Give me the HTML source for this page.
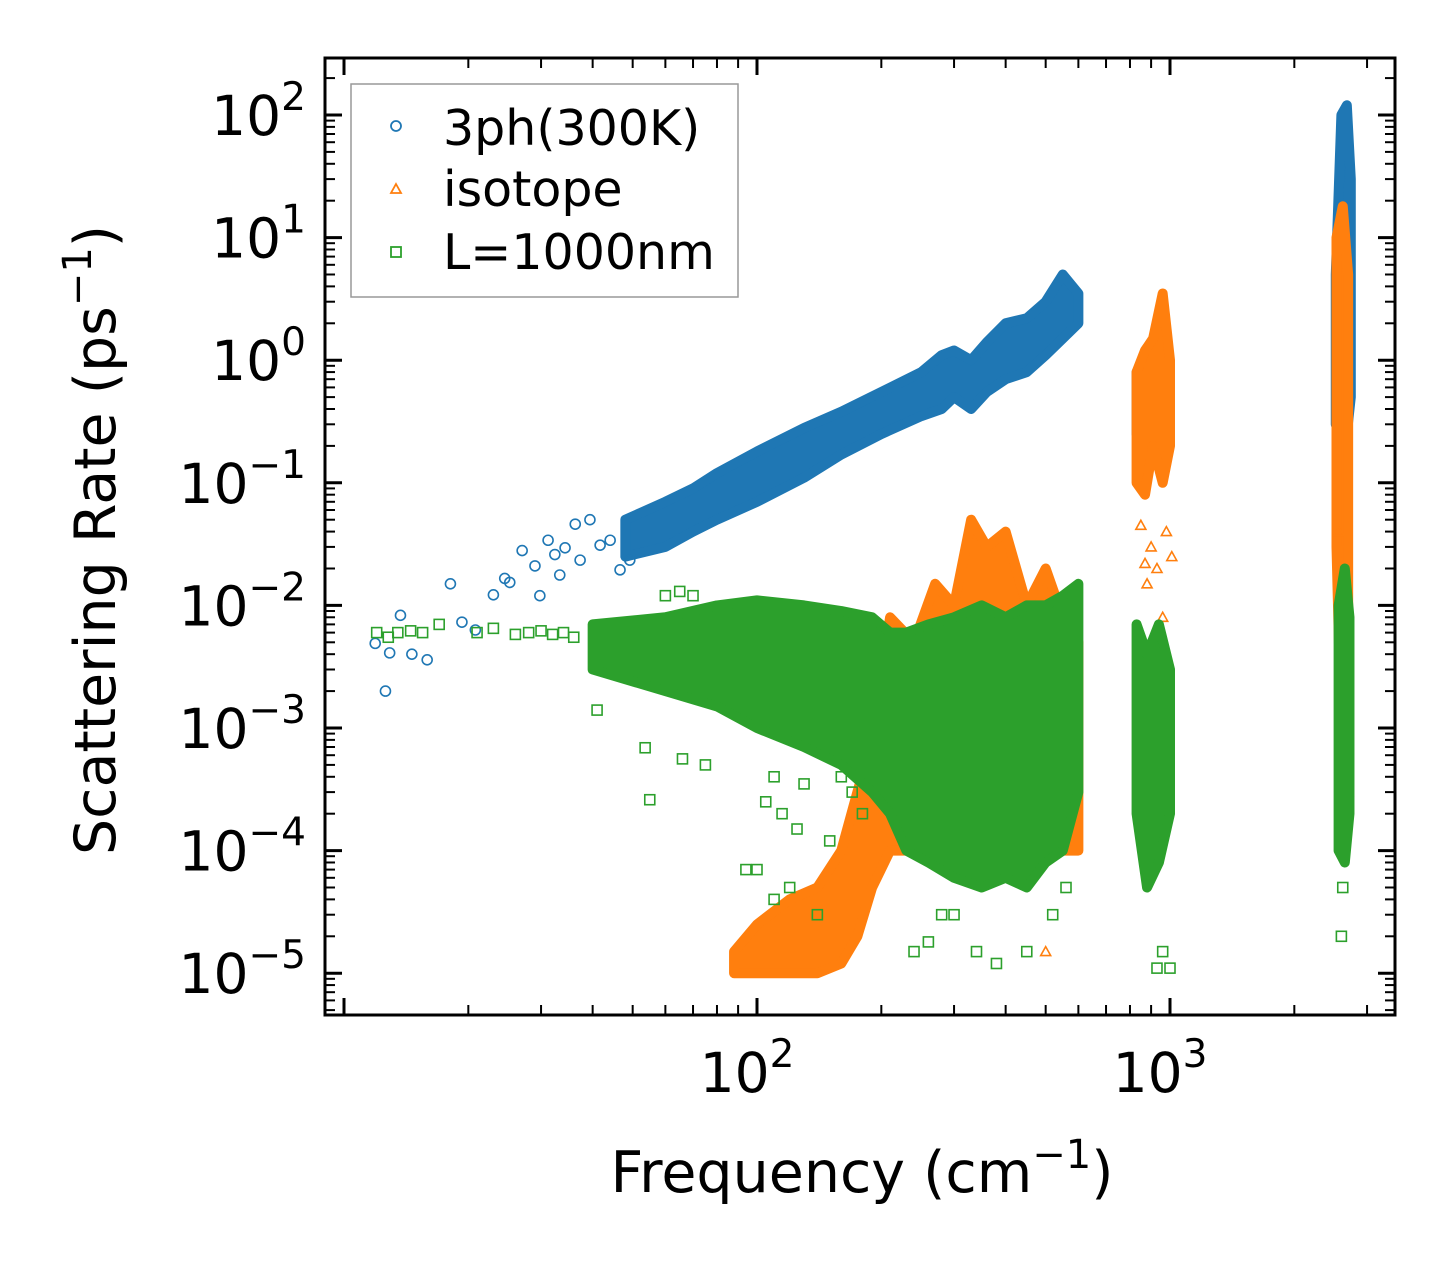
<!DOCTYPE html>
<html><head><meta charset="utf-8">
<style>
html,body{margin:0;padding:0;background:#fff;}
svg{display:block;font-family:"DejaVu Sans","Liberation Sans",sans-serif;}
</style></head>
<body>
<svg id="chart" width="1455" height="1265" viewBox="0 0 1455 1265" xmlns="http://www.w3.org/2000/svg">
<rect x="0" y="0" width="1455" height="1265" fill="#fff"/>
<g id="marks"></g>
<g id="axes"></g>
<text x="862" y="1192" font-size="57" text-anchor="middle">Frequency (cm<tspan font-size="40" dy="-24">−1</tspan><tspan dy="24">)</tspan></text>
<text transform="translate(115,540) rotate(-90)" font-size="57" text-anchor="middle">Scattering Rate (ps<tspan font-size="40" dy="-24">−1</tspan><tspan dy="24">)</tspan></text>
<g>
<rect x="351" y="84" width="387" height="213" fill="#fff" stroke="#999" stroke-width="1.5"/>
<circle cx="396" cy="126" r="5" fill="none" stroke="#1f77b4" stroke-width="1.8"/>
<text x="443" y="145" font-size="49">3ph(300K)</text>
<polygon points="396,184 401,193 391,193" fill="none" stroke="#ff7f0e" stroke-width="1.8"/>
<text x="443" y="206" font-size="49">isotope</text>
<rect x="391" y="247" width="10" height="10" fill="none" stroke="#2ca02c" stroke-width="1.8"/>
<text x="443" y="269" font-size="49">L=1000nm</text>
</g>
</svg>
<script>
// ---- data (frequency cm^-1, rate ps^-1) ----
const blueBandFreq = [48,60,70,80,100,130,160,200,250,280,300,330,360,400,450,500,550,600];
const blueBandLo   = [0.025,0.03,0.04,0.05,0.07,0.11,0.17,0.25,0.35,0.4,0.5,0.4,0.55,0.7,0.8,1.1,1.5,2.0];
const blueBandHi   = [0.05,0.07,0.09,0.12,0.18,0.28,0.38,0.55,0.8,1.1,1.2,1.0,1.4,2.0,2.2,3.0,5.0,3.5];
const blueClusterFreq = [830,1000];
const blueClusterLo = [0.25,0.3];
const blueClusterHi = [0.8,0.7];
const blueSpikeFreq = [2520,2600,2680,2740];
const blueSpikeLo = [0.3,0.22,0.25,0.5];
const blueSpikeHi = [5,100,120,30];
const bluePtsFreq = [11.9,12.6,12.9,13.7,14.6,15.9,18.1,19.3,20.8,23.0,24.5,25.2,27.0,29.0,29.8,31.2,32.4,33.3,34.3,36.3,37.3,39.4,41.7,44.1,46.6,49.2];
const bluePtsRate = [0.0049,0.0020,0.0041,0.0083,0.0040,0.0036,0.015,0.0073,0.0063,0.0122,0.0166,0.0154,0.028,0.021,0.012,0.034,0.026,0.0177,0.0295,0.046,0.0234,0.050,0.031,0.034,0.0195,0.0234];

const orangeBandFreq = [88,100,120,140,160,175,190,210,240,270,300,330,360,400,450,500,550,600];
const orangeBandLo = [1e-5,1e-5,1e-5,1e-5,1.2e-5,2e-5,5e-5,1e-4,1e-4,1e-4,1e-4,1e-4,1e-4,1e-4,1e-4,1e-4,1e-4,1e-4];
const orangeBandHi = [1.5e-5,2.5e-5,4e-5,5e-5,1e-4,3e-4,8e-4,0.008,0.005,0.015,0.01,0.05,0.03,0.04,0.01,0.02,0.008,0.005];
const orangeClusterFreq = [830,870,910,960,1000];
const orangeClusterLo = [0.1,0.08,0.2,0.1,0.2];
const orangeClusterHi = [0.8,1.2,1.5,3.5,1.0];
const orangeSpikeFreq = [2530,2620,2700];
const orangeSpikeLo = [0.03,0.0003,0.01];
const orangeSpikeHi = [10,18,5];
const orangePtsFreq = [850,870,900,930,960,980,1010,880,2560,2680,2700,500];
const orangePtsRate = [0.045,0.022,0.03,0.02,0.008,0.04,0.025,0.015,0.04,0.0005,0.0003,1.5e-5];

const greenBandFreq = [40,60,80,100,130,160,190,210,230,260,300,350,400,450,500,550,600];
const greenBandLo = [0.003,0.002,0.0015,0.001,0.0007,0.0005,0.0003,0.0002,0.0001,8e-5,6e-5,5e-5,6e-5,5e-5,8e-5,1e-4,3e-4];
const greenBandHi = [0.007,0.008,0.01,0.011,0.01,0.009,0.008,0.006,0.006,0.007,0.008,0.01,0.008,0.01,0.01,0.012,0.015];
const greenClusterFreq = [830,880,940,1000];
const greenClusterLo = [2e-4,5e-5,8e-5,2e-4];
const greenClusterHi = [0.007,0.004,0.007,0.003];
const greenSpikeFreq = [2560,2650,2720];
const greenSpikeLo = [1e-4,8e-5,2e-4];
const greenSpikeHi = [0.01,0.02,0.008];
const greenPtsFreq = [12,12.8,13.5,14.5,15.5,17,21,23,26,28,30,32,34,36,41,53.6,55,66,75,94,100,110,120,140,300,340,380,450,520,560,930,960,1000,2600,2620,105,115,125,150,170,180,110,130,160,240,260,280,60,65,70];
const greenPtsRate = [0.006,0.0055,0.006,0.0062,0.006,0.007,0.006,0.0065,0.0058,0.006,0.0062,0.0058,0.006,0.0055,0.0014,0.00069,0.00026,0.00056,0.0005,0.00007,0.00007,0.00004,0.00005,0.00003,0.00003,0.000015,0.000012,0.000015,0.00003,0.00005,0.000011,0.000015,0.000011,0.00002,0.00005,0.00025,0.0002,0.00015,0.00012,0.0003,0.0002,0.0004,0.00035,0.0004,0.000015,0.000018,0.00003,0.012,0.013,0.012];

const yTickVals = [2,1,0,-1,-2,-3,-4,-5];
const xTickVals = [2,3];

// ---- scales ----
const X = f => 757 + 413*(Math.log10(f)-2);
const Y = r => 115 + 122.6*(2-Math.log10(r));
const NS='http://www.w3.org/2000/svg';
const marks=document.getElementById('marks');
const axes=document.getElementById('axes');
const L=325,R=1395,T=58,B=1015;

function band(freq,lo,hi,color,name){
  const p=document.createElementNS(NS,'polygon');
  const pts=[];
  for(let i=0;i<freq.length;i++) pts.push(X(freq[i])+','+Y(hi[i]));
  for(let i=freq.length-1;i>=0;i--) pts.push(X(freq[i])+','+Y(lo[i]));
  p.setAttribute('points',pts.join(' '));
  p.setAttribute('fill',color);p.setAttribute('stroke',color);p.setAttribute('stroke-width','10');p.setAttribute('stroke-linejoin','round');
  
  
  marks.appendChild(p);
}
function pts(freq,rate,color,shape,name){
  for(let i=0;i<freq.length;i++){
    const x=X(freq[i]),y=Y(rate[i]);let el;
    if(shape==='c'){el=document.createElementNS(NS,'circle');el.setAttribute('cx',x);el.setAttribute('cy',y);el.setAttribute('r',5);}
    else if(shape==='t'){el=document.createElementNS(NS,'polygon');el.setAttribute('points',`${x},${y-5} ${x+5},${y+4} ${x-5},${y+4}`);}
    else {el=document.createElementNS(NS,'rect');el.setAttribute('x',x-5);el.setAttribute('y',y-5);el.setAttribute('width',10);el.setAttribute('height',10);}
    el.setAttribute('fill','none');el.setAttribute('stroke',color);el.setAttribute('stroke-width','1.6');
    
    
    marks.appendChild(el);
  }
}
const cB='#1f77b4',cO='#ff7f0e',cG='#2ca02c';
band(blueBandFreq,blueBandLo,blueBandHi,cB,'3ph-band');
band(blueClusterFreq,blueClusterLo,blueClusterHi,cB,'3ph-cluster');
band(blueSpikeFreq,blueSpikeLo,blueSpikeHi,cB,'3ph-spike');
pts(bluePtsFreq,bluePtsRate,cB,'c','3ph-point');
band(orangeBandFreq,orangeBandLo,orangeBandHi,cO,'isotope-band');
band(orangeClusterFreq,orangeClusterLo,orangeClusterHi,cO,'isotope-cluster');
band(orangeSpikeFreq,orangeSpikeLo,orangeSpikeHi,cO,'isotope-spike');
pts(orangePtsFreq,orangePtsRate,cO,'t','isotope-point');
band(greenBandFreq,greenBandLo,greenBandHi,cG,'boundary-band');
band(greenClusterFreq,greenClusterLo,greenClusterHi,cG,'boundary-cluster');
band(greenSpikeFreq,greenSpikeLo,greenSpikeHi,cG,'boundary-spike');
pts(greenPtsFreq,greenPtsRate,cG,'s','boundary-point');

// ---- axes ----
function line(x1,y1,x2,y2,w){const l=document.createElementNS(NS,'line');l.setAttribute('x1',x1);l.setAttribute('y1',y1);l.setAttribute('x2',x2);l.setAttribute('y2',y2);l.setAttribute('stroke','#000');l.setAttribute('stroke-width',w);
  
  
  axes.appendChild(l);}
const frame=document.createElementNS(NS,'rect');
frame.setAttribute('x',L);frame.setAttribute('y',T);frame.setAttribute('width',R-L);frame.setAttribute('height',B-T);
frame.setAttribute('fill','none');frame.setAttribute('stroke','#000');frame.setAttribute('stroke-width','3');


axes.appendChild(frame);
for(let d=-6;d<=2;d++){
  for(let m=1;m<10;m++){
    const y=Y(m*Math.pow(10,d)); if(y<T||y>B) continue;
    const len=m===1?17:10, w=m===1?3:2;
    line(L,y,L+len,y,w);line(R,y,R-len,y,w);
  }
}
for(let d=0;d<=3;d++){
  for(let m=1;m<10;m++){
    const x=X(m*Math.pow(10,d)); if(x<L||x>R) continue;
    const len=m===1?17:10, w=m===1?3:2;
    line(x,B,x,B-len,w);line(x,T,x,T+len,w);
  }
}
function label(x,y,exp,anchor,name){
  const t=document.createElementNS(NS,'text');
  t.setAttribute('x',x);t.setAttribute('y',y);t.setAttribute('font-size','55');t.setAttribute('text-anchor',anchor);
  const e=exp<0?'−'+Math.abs(exp):String(exp);
  t.innerHTML='10<tspan font-size="39" dy="-25">'+e+'</tspan>';
  
  
  axes.appendChild(t);
}
yTickVals.forEach(v=>label(306,Y(Math.pow(10,v))+20,v,'end','y-tick-label'));
xTickVals.forEach(v=>label(X(Math.pow(10,v))-10,1092,v,'middle','x-tick-label'));
</script>
</body></html>
